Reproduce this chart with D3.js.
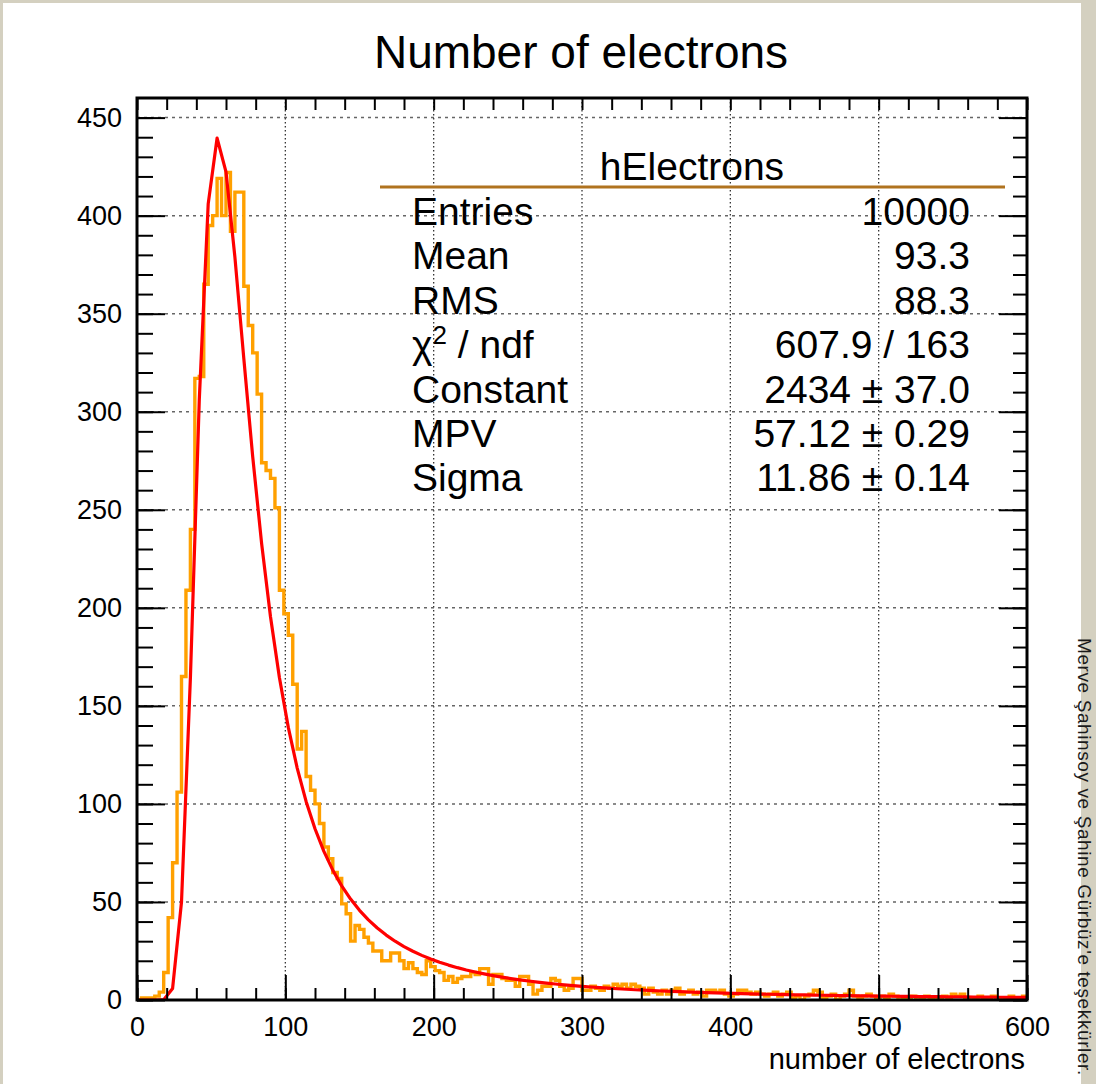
<!DOCTYPE html>
<html>
<head>
<meta charset="utf-8">
<script src="https://cdn.jsdelivr.net/npm/d3@7"></script>
<style>
  html, body { margin: 0; padding: 0; background: #d4d0c0; }
  svg { display: block; font-family: "Liberation Sans", Arial, Helvetica, sans-serif; }
</style>
</head>
<body>
<svg id="chart" width="1096" height="1084"></svg>
<script>
// ---- histogram hElectrons: 200 bins of width 3 over [0, 600) ----
const binLow = 0;
const binWidth = 3;
const counts = [
  0, 1, 1, 1, 2, 4, 14, 42, 70, 106,
  165, 209, 240, 317, 318, 365, 395, 400, 419, 400,
  422, 392, 412, 412, 364, 344, 330, 309, 274, 270,
  266, 251, 209, 197, 186, 161, 128, 137, 114, 107,
  100, 90, 78, 72, 65, 62, 49, 44, 30, 38,
  36, 32, 29, 25, 25, 20, 20, 24, 24, 20,
  16, 19, 16, 14, 13, 20, 17, 15, 14, 10,
  12, 9, 11, 12, 12, 14, 13, 16, 16, 8,
  13, 13, 11, 10, 10, 7, 12, 12, 8, 3,
  5, 7, 7, 11, 10, 7, 5, 6, 11, 11,
  5, 5, 7, 6, 5, 7, 6, 8, 7, 8,
  6, 8, 7, 6, 3, 6, 4, 3, 5, 3,
  5, 6, 3, 4, 5, 3, 4, 2, 5, 5,
  4, 5, 3, 2, 3, 5, 5, 4, 3, 4,
  3, 2, 3, 4, 2, 3, 4, 1, 2, 0,
  2, 3, 5, 4, 1, 2, 3, 0, 2, 3,
  5, 2, 1, 2, 3, 2, 1, 2, 1, 3,
  2, 0, 1, 1, 2, 0, 1, 2, 1, 0,
  1, 2, 1, 3, 2, 3, 1, 0, 1, 2,
  1, 0, 2, 1, 0, 1, 2, 1, 1, 2
];

// ---- Landau fit parameters ----
const fitConstant = 2434;
const fitMPV = 57.12;
const fitSigma = 11.86;
const fitPoints = 100;

// ---- axes ----
const xDomain = [0, 600];
const yDomain = [0, 460];
const xMajorTicks = [0, 100, 200, 300, 400, 500, 600];
const xMinorTicks = d3.range(0, 601, 20);
const yMajorTicks = [0, 50, 100, 150, 200, 250, 300, 350, 400, 450];
const yMinorTicks = d3.range(0, 460, 10);

// ---- texts ----
const chartTitle = "Number of electrons";
const xTitle = "number of electrons";
const statsName = "hElectrons";
const statsLabels = ["Entries", "Mean", "RMS", "chi2ndf", "Constant", "MPV", "Sigma"];
const statsValues = ["10000", "93.3", "88.3", "607.9 / 163", "2434 \u00b1 37.0", "57.12 \u00b1 0.29", "11.86 \u00b1 0.14"];
const sideNote = "Merve \u015eahinsoy ve \u015eahine G\u00fcrb\u00fcz'e te\u015fekk\u00fcrler.";

// ---- Landau density (CERNLIB DENLAN, as used by ROOT's TMath::Landau) ----
function landauDensity(v) {
  const p1 = [0.4259894875, -0.1249762550, 0.03984243700, -0.006298287635, 0.001511162253];
  const q1 = [1.0, -0.3388260629, 0.09594393323, -0.01608042283, 0.003778942063];
  const p2 = [0.1788541609, 0.1173957403, 0.01488850518, -0.001394989411, 0.0001283617211];
  const q2 = [1.0, 0.7428795082, 0.3153932961, 0.06694219548, 0.008790609714];
  const p3 = [0.1788544503, 0.09359161662, 0.006325387654, 0.00006611667319, -0.000002031049101];
  const q3 = [1.0, 0.6097809921, 0.2560616665, 0.04746722384, 0.006957301675];
  const p4 = [0.9874054407, 118.6723273, 849.2794360, -743.7792444, 427.0262186];
  const q4 = [1.0, 106.8615961, 337.6496214, 2016.712389, 1597.063511];
  const p5 = [1.003675074, 167.5702434, 4789.711289, 21217.86767, -22324.94910];
  const q5 = [1.0, 156.9424537, 3745.310488, 9834.698876, 66924.28357];
  const p6 = [1.000827619, 664.9143136, 62972.92665, 475554.6998, -5743609.109];
  const q6 = [1.0, 651.4101098, 56974.73333, 165917.4725, -2815759.939];
  const a1 = [0.04166666667, -0.01996527778, 0.02709538966];
  const a2 = [-1.845568670, -4.284640743];
  const poly = (c, t) => c[0] + (c[1] + (c[2] + (c[3] + c[4] * t) * t) * t) * t;
  let u;
  if (v < -5.5) {
    u = Math.exp(v + 1.0);
    if (u < 1e-10) return 0;
    const ue = Math.exp(-1 / u), us = Math.sqrt(u);
    return 0.3989422803 * (ue / us) * (1 + (a1[0] + (a1[1] + a1[2] * u) * u) * u);
  } else if (v < -1) {
    u = Math.exp(-v - 1);
    return Math.exp(-u) * Math.sqrt(u) * poly(p1, v) / poly(q1, v);
  } else if (v < 1) {
    return poly(p2, v) / poly(q2, v);
  } else if (v < 5) {
    return poly(p3, v) / poly(q3, v);
  } else if (v < 12) {
    u = 1 / v; return u * u * poly(p4, u) / poly(q4, u);
  } else if (v < 50) {
    u = 1 / v; return u * u * poly(p5, u) / poly(q5, u);
  } else if (v < 300) {
    u = 1 / v; return u * u * poly(p6, u) / poly(q6, u);
  }
  u = 1 / (v - v * Math.log(v) / (v + 1));
  return u * u * (1 + (a2[0] + a2[1] * u) * u);
}
const landauFit = x => fitConstant * landauDensity((x - fitMPV) / fitSigma);

// ---- drawing ----
const svg = d3.select("#chart");
const W = 1096, H = 1084;
const frame = { left: 137, right: 1027, top: 98, bottom: 1000 };

const x = d3.scaleLinear().domain(xDomain).range([frame.left, frame.right]);
const y = d3.scaleLinear().domain(yDomain).range([frame.bottom, frame.top]);

// canvas
svg.append("rect").attr("x", 0).attr("y", 0).attr("width", W).attr("height", H).attr("fill", "#d4d0c0");
svg.append("rect").attr("x", 3).attr("y", 3).attr("width", 1078).attr("height", H - 3).attr("fill", "#ffffff");

// side note, rotated to read downwards along the right margin
svg.append("text")
  .attr("transform", "translate(1078,638) rotate(90)")
  .attr("font-size", 19)
  .attr("letter-spacing", 0.6)
  .attr("fill", "#1a1a1a")
  .text(sideNote);

// title
svg.append("text")
  .attr("x", 581).attr("y", 68)
  .attr("text-anchor", "middle")
  .attr("font-size", 46)
  .attr("fill", "#000")
  .text(chartTitle);

// grid
const grid = svg.append("g");
grid.selectAll("line.gx")
  .data(xMajorTicks.filter(d => d > xDomain[0] && d < xDomain[1]))
  .join("line")
  .attr("x1", d => x(d)).attr("x2", d => x(d))
  .attr("y1", frame.top).attr("y2", frame.bottom)
  .attr("stroke", "#333").attr("stroke-width", 1.3)
  .attr("stroke-dasharray", "1.5,2.5");
grid.selectAll("line.gy")
  .data(yMajorTicks.filter(d => d > 0))
  .join("line")
  .attr("x1", frame.left).attr("x2", frame.right)
  .attr("y1", d => y(d)).attr("y2", d => y(d))
  .attr("stroke", "#666").attr("stroke-width", 1.5)
  .attr("stroke-dasharray", "3,4");

// stats panel
const stats = svg.append("g");
stats.append("text")
  .attr("x", 692).attr("y", 180)
  .attr("text-anchor", "middle").attr("font-size", 39)
  .text(statsName);
stats.append("line")
  .attr("x1", 380).attr("x2", 1005).attr("y1", 187).attr("y2", 187)
  .attr("stroke", "#b0731f").attr("stroke-width", 3);
statsLabels.forEach((lab, i) => {
  const by = 225 + i * 44.4;
  const t = stats.append("text").attr("x", 412).attr("y", by).attr("font-size", 39);
  if (lab === "chi2ndf") {
    t.append("tspan").text("\u03c7");
    t.append("tspan").attr("dy", -14).attr("font-size", 26).text("2");
    t.append("tspan").attr("dy", 14).text(" / ndf");
  } else {
    t.text(lab);
  }
  stats.append("text").attr("x", 970).attr("y", by)
    .attr("text-anchor", "end").attr("font-size", 39)
    .text(statsValues[i]);
});

// clip to frame
svg.append("clipPath").attr("id", "frameClip")
  .append("rect").attr("x", frame.left).attr("y", frame.top)
  .attr("width", frame.right - frame.left).attr("height", frame.bottom - frame.top);

// histogram outline
const histPts = [[binLow, 0]];
counts.forEach((c, i) => histPts.push([binLow + i * binWidth, c]));
histPts.push([binLow + counts.length * binWidth, counts[counts.length - 1]]);
histPts.push([binLow + counts.length * binWidth, 0]);
const stepLine = d3.line().x(d => x(d[0])).y(d => y(d[1])).curve(d3.curveStepAfter);
svg.append("path")
  .attr("clip-path", "url(#frameClip)")
  .attr("d", stepLine(histPts))
  .attr("fill", "none").attr("stroke", "#ffa000").attr("stroke-width", 3.4)
  .attr("stroke-linejoin", "miter");

// fitted Landau
const fitX = d3.range(fitPoints + 1).map(i => xDomain[0] + i * (xDomain[1] - xDomain[0]) / fitPoints);
const fitLine = d3.line().x(d => x(d)).y(d => y(landauFit(d)));
svg.append("path")
  .attr("clip-path", "url(#frameClip)")
  .attr("d", fitLine(fitX))
  .attr("fill", "none").attr("stroke", "#ff0000").attr("stroke-width", 3.2)
  .attr("stroke-linejoin", "round");

// axes
const axStyle = g => {
  g.select(".domain").remove();
  g.selectAll(".tick line").attr("stroke", "#000").attr("stroke-width", 2);
  g.selectAll(".tick text").attr("fill", "#000").attr("font-size", 27)
    .attr("font-family", '"Liberation Sans", Arial, sans-serif');
};
svg.append("g").attr("transform", `translate(0,${frame.bottom})`)
  .call(d3.axisBottom(x).tickValues(xMinorTicks).tickSize(-12).tickFormat(""))
  .call(axStyle);
svg.append("g").attr("transform", `translate(0,${frame.bottom})`)
  .call(d3.axisBottom(x).tickValues(xMajorTicks).tickSize(-25).tickPadding(17).tickFormat(d3.format("d")))
  .call(axStyle);
svg.append("g").attr("transform", `translate(0,${frame.top})`)
  .call(d3.axisTop(x).tickValues(xMinorTicks).tickSize(-12).tickFormat(""))
  .call(axStyle);
svg.append("g").attr("transform", `translate(${frame.left},0)`)
  .call(d3.axisLeft(y).tickValues(yMinorTicks).tickSize(-16).tickFormat(""))
  .call(axStyle);
svg.append("g").attr("transform", `translate(${frame.left},0)`)
  .call(d3.axisLeft(y).tickValues(yMajorTicks).tickSize(-28).tickPadding(15).tickFormat(d3.format("d")))
  .call(axStyle);
svg.append("g").attr("transform", `translate(${frame.right},0)`)
  .call(d3.axisRight(y).tickValues(yMinorTicks).tickSize(-14).tickFormat(""))
  .call(axStyle);
svg.append("g").attr("transform", `translate(${frame.right},0)`)
  .call(d3.axisRight(y).tickValues(yMajorTicks).tickSize(-28).tickFormat(""))
  .call(axStyle);

// frame
svg.append("rect")
  .attr("x", frame.left).attr("y", frame.top)
  .attr("width", frame.right - frame.left).attr("height", frame.bottom - frame.top)
  .attr("fill", "none").attr("stroke", "#000").attr("stroke-width", 3);

// x axis title
svg.append("text")
  .attr("x", 1025).attr("y", 1069)
  .attr("text-anchor", "end").attr("font-size", 29)
  .text(xTitle);
</script>
</body>
</html>
